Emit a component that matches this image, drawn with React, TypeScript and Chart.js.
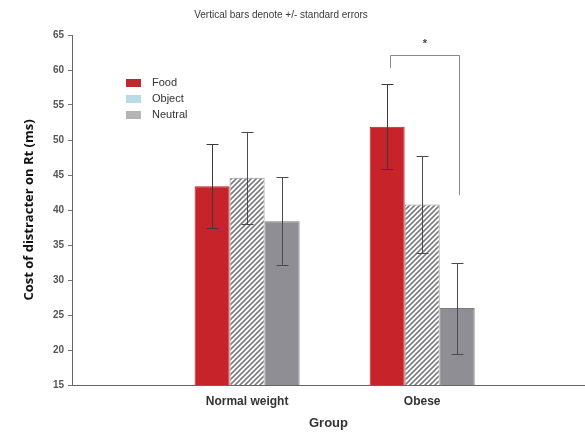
import React, { useEffect, useRef } from 'react';
import { Chart, registerables } from 'chart.js';

Chart.register(...registerables);

const categories = ['Normal weight', 'Obese'];
const seriesNames = ['Food', 'Object', 'Neutral'];
const foodValues = [43.4, 51.9];
const objectValues = [44.6, 40.8];
const neutralValues = [38.4, 26.0];
const foodErrors = [6.0, 6.1];
const objectErrors = [6.6, 6.9];
const neutralErrors = [6.3, 6.5];
const yTickValues = [15, 20, 25, 30, 35, 40, 45, 50, 55, 60, 65];
// significance bracket over the Obese group (Food vs Neutral), in axis units
const bracketTop = 62.1;
const bracketLeftEnd = 60.3;
const bracketRightEnd = 42.1;
const starValue = 64;

const chartTitle = 'Vertical bars denote +/- standard errors';
const yTitle = 'Cost of distracter on Rt (ms)';
const xTitle = 'Group';

function makeHatch(): CanvasPattern | string {
  const c = document.createElement('canvas');
  const s = 5;
  c.width = s;
  c.height = s;
  const g = c.getContext('2d');
  if (!g) return '#ccc';
  g.fillStyle = '#ffffff';
  g.fillRect(0, 0, s, s);
  g.strokeStyle = '#7c7c80';
  g.lineWidth = 1.6;
  g.beginPath();
  g.moveTo(0, s);
  g.lineTo(s, 0);
  g.moveTo(-s / 2, s / 2);
  g.lineTo(s / 2, -s / 2);
  g.moveTo(s / 2, s * 1.5);
  g.lineTo(s * 1.5, s / 2);
  g.stroke();
  const p = g.createPattern(c, 'repeat');
  return p || '#ccc';
}

export default function App() {
  const ref = useRef<HTMLCanvasElement>(null);

  useEffect(() => {
    if (!ref.current) return;
    const hatch = makeHatch();
    const values = [foodValues, objectValues, neutralValues];
    const errors = [foodErrors, objectErrors, neutralErrors];
    const fills: any[] = ['#c6232b', hatch, '#8e8e94'];
    const borders = ['#b51f26', '#909090', '#7a7a80'];
    const legendColors = ['#c0282e', '#b9dbe6', '#b4b4b4'];

    const overlay = {
      id: 'overlay',
      afterDatasetsDraw(chart: any) {
        const ctx = chart.ctx;
        const ys = chart.scales.y;
        // error bars
        ctx.save();
        ctx.lineWidth = 1;
        for (let d = 0; d < values.length; d++) {
          const meta = chart.getDatasetMeta(d);
          meta.data.forEach((el: any, j: number) => {
            const v = values[d][j];
            const e = errors[d][j];
            const x = Math.round(el.x) + 0.5;
            const yt = Math.round(ys.getPixelForValue(v + e)) + 0.5;
            const yb = Math.round(ys.getPixelForValue(v - e)) + 0.5;
            ctx.strokeStyle = d === 0 ? '#3a3a3a' : '#4a4a4a';
            ctx.beginPath();
            ctx.moveTo(x, yt);
            ctx.lineTo(x, yb);
            ctx.moveTo(x - 6, yt);
            ctx.lineTo(x + 6, yt);
            ctx.moveTo(x - 6, yb);
            ctx.lineTo(x + 6, yb);
            ctx.stroke();
          });
        }
        // bracket
        const leftEl = chart.getDatasetMeta(0).data[1];
        const rightEl = chart.getDatasetMeta(2).data[1];
        if (leftEl && rightEl) {
          const lx = Math.round(leftEl.x) + 3.5;
          const rx = Math.round(rightEl.x) + 2.5;
          const ty = Math.round(ys.getPixelForValue(bracketTop)) + 0.5;
          const ly = ys.getPixelForValue(bracketLeftEnd);
          const ry = ys.getPixelForValue(bracketRightEnd);
          ctx.strokeStyle = '#8a8a8a';
          ctx.beginPath();
          ctx.moveTo(lx, ly);
          ctx.lineTo(lx, ty);
          ctx.lineTo(rx, ty);
          ctx.lineTo(rx, ry);
          ctx.stroke();
          ctx.fillStyle = '#444';
          ctx.font = 'bold 11px "Liberation Sans", Arial, sans-serif';
          ctx.textAlign = 'center';
          ctx.textBaseline = 'middle';
          ctx.fillText('*', (lx + rx) / 2, ys.getPixelForValue(starValue) + 2);
        }
        // legend
        ctx.font = '11px "Liberation Sans", Arial, sans-serif';
        ctx.textAlign = 'left';
        ctx.textBaseline = 'middle';
        seriesNames.forEach((name, i) => {
          const cy = 83 + i * 16;
          ctx.fillStyle = legendColors[i];
          ctx.fillRect(126, cy - 4, 15, 8);
          ctx.fillStyle = '#333';
          ctx.fillText(name, 152, cy);
        });
        // title
        ctx.font = '10px "Liberation Sans", Arial, sans-serif';
        ctx.fillStyle = '#3a3a3a';
        ctx.textAlign = 'center';
        ctx.fillText(chartTitle, 281, 15);
        ctx.restore();
      },
    };

    const chart = new Chart(ref.current, {
      type: 'bar',
      data: {
        datasets: seriesNames.map((name, d) => ({
          label: name,
          data: categories.map((_, j) => ({ x: j + 1, y: values[d][j] })),
          backgroundColor: fills[d],
          borderColor: borders[d],
          borderWidth: 1,
          categoryPercentage: 0.6,
          barPercentage: 1.0,
        })),
      },
      options: {
        responsive: false,
        animation: false,
        layout: { padding: { top: 35, right: 0, left: 0, bottom: 0 } },
        plugins: {
          legend: { display: false },
          tooltip: { enabled: false },
          title: { display: false },
        },
        scales: {
          x: {
            type: 'linear',
            offset: false,
            min: 0,
            max: 2.93,
            afterBuildTicks(scale: any) {
              scale.ticks = categories.map((_, j) => ({ value: j + 1 }));
            },
            afterFit(scale: any) {
              scale.height = 47;
            },
            grid: { display: false, offset: false },
            border: { display: true, color: '#666', width: 1 },
            ticks: {
              autoSkip: false,
              maxRotation: 0,
              padding: 1,
              color: '#333',
              font: { family: '"Liberation Sans", Arial, sans-serif', size: 12, weight: 'bold' },
              callback: (v: any) => categories[Number(v) - 1] ?? '',
            },
            title: {
              display: true,
              text: xTitle,
              color: '#333',
              font: { family: '"Liberation Sans", Arial, sans-serif', size: 13, weight: 'bold' },
              padding: { top: 1, bottom: 1 },
            },
          },
          y: {
            type: 'linear',
            min: 15,
            max: 65,
            afterBuildTicks(scale: any) {
              scale.ticks = yTickValues.map((v) => ({ value: v }));
            },
            afterFit(scale: any) {
              scale.width = 72;
            },
            grid: { drawOnChartArea: false, drawTicks: true, tickLength: 4, color: '#777' },
            border: { display: true, color: '#666', width: 1 },
            ticks: {
              padding: 4,
              color: '#555',
              font: { family: '"Liberation Sans", Arial, sans-serif', size: 10, weight: 'bold' },
            },
            title: {
              display: true,
              text: yTitle,
              color: '#111',
              font: { family: '"Open Sans", sans-serif', size: 13, weight: 'bold' },
              padding: { top: 21, bottom: 0 },
            },
          },
        },
      },
      plugins: [overlay],
    });
    return () => chart.destroy();
  }, []);

  return (
    <div style={{ position: 'absolute', left: 0, top: 0, width: 585, height: 432, background: '#fff' }}>
      <canvas ref={ref} width={585} height={432} />
    </div>
  );
}
